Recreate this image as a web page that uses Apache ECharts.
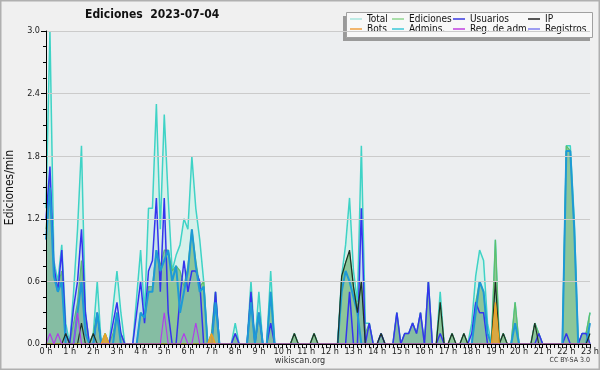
<!DOCTYPE html>
<html><head><meta charset="utf-8">
<script src="https://cdn.jsdelivr.net/npm/echarts@6/dist/echarts.min.js"></script>
<style>html,body{margin:0;padding:0;background:#f0f0f0}#c{width:600px;height:370px}</style>
</head><body><div id="c"></div>
<script>
// tick labels (one per hour)
const hourLabels = ['0 h','1 h','2 h','3 h','4 h','5 h','6 h','7 h','8 h','9 h','10 h','11 h',
  '12 h','13 h','14 h','15 h','16 h','17 h','18 h','19 h','20 h','21 h','22 h','23 h'];
const yTicks = [0, 0.6, 1.2, 1.8, 2.4, 3.0];

// edits per minute, one value per 10-minute slot (00:00 .. 23:00)
const total = [
  1.3,3.0,0.8,0.6,0.95,0.2,   0,0.5,1.1,1.9,0.3,0,   0.1,0.6,0,0.1,0,0.35,   0.7,0.3,0,0,0,0.45,
  0.9,0.3,1.3,1.3,2.3,1.1,   2.2,1.4,0.7,0.85,0.95,1.2,   1.1,1.8,1.3,1.0,0.6,0,   0.1,0.5,0,0,0,0,
  0.2,0,0,0,0.6,0,   0.5,0,0,0.7,0,0,   0,0,0,0.1,0,0,   0,0,0.1,0,0,0,
  0,0,0,0.65,0.95,1.4,   0.7,0.4,1.9,0.2,0.2,0,   0,0.1,0,0,0,0.3,   0,0.1,0.1,0.2,0.1,0.3,
  0,0.6,0,0,0.5,0,   0,0.1,0,0,0.1,0,   0.2,0.65,0.9,0.8,0.2,0,   1.0,0,0.1,0,0,0.4,
  0,0,0,0,0.2,0.1,   0,0,0,0,0,0,   1.9,1.9,1.2,0,0.1,0.1,   0.3];
const ediciones = [
  1.1,1.6,0.7,0.55,0.7,0.1,   0,0.2,0.4,0.8,0.2,0,   0.1,0.3,0,0.1,0,0.1,   0.3,0.1,0,0,0,0,
  0.3,0.25,0.55,0.55,0.9,0.75,   0.9,0.9,0.7,0.75,0.7,0.55,   0.75,1.1,0.8,0.55,0.6,0,   0.1,0.5,0,0,0,0,
  0.1,0,0,0,0.5,0,   0.3,0,0,0.5,0,0,   0,0,0,0.1,0,0,   0,0,0.1,0,0,0,
  0,0,0,0.62,0.78,0.88,   0.55,0.35,0.6,0.1,0.2,0,   0,0.1,0,0,0,0.3,   0,0.1,0.1,0.2,0.1,0.3,
  0,0.6,0,0,0.4,0,   0,0.1,0,0,0.1,0,   0,0.4,0.6,0.5,0.1,0,   1.0,0,0.1,0,0,0.4,
  0,0,0,0,0.2,0.1,   0,0,0,0,0,0,   1.9,1.85,1.1,0,0.1,0.1,   0.3];
const usuarios = [
  1.2,1.7,0.75,0.5,0.9,0.1,   0,0.35,0.6,1.1,0.3,0,   0,0.3,0,0,0,0.2,   0.4,0.1,0,0,0,0.3,
  0.6,0.2,0.7,0.8,1.4,0.5,   1.4,0.3,0,0,0.45,0.8,   0.5,0.7,0.7,0.6,0,0,   0,0.5,0,0,0,0,
  0.1,0,0,0,0.5,0,   0.3,0,0,0.2,0,0,   0,0,0,0,0,0,   0,0,0,0,0,0,
  0,0,0,0,0,0.5,   0,0,1.3,0,0.2,0,   0,0.1,0,0,0,0.3,   0,0.1,0.1,0.2,0.1,0.3,
  0,0.6,0,0,0.1,0,   0,0,0,0,0,0,   0.1,0.4,0.3,0.3,0,0,   0,0,0,0,0,0,
  0,0,0,0,0,0.1,   0,0,0,0,0,0,   0.1,0,0,0,0.1,0.1,   0];
const ip = [
  0,0,0,0,0,0.1,   0,0,0,0.2,0,0,   0.1,0,0,0,0,0,   0,0,0,0,0,0,
  0,0,0,0,0,0,   0,0,0,0,0,0,   0,0,0,0,0,0,   0,0,0,0,0,0,
  0,0,0,0,0,0,   0,0,0,0,0,0,   0,0,0,0.1,0,0,   0,0,0.1,0,0,0,
  0,0,0,0.65,0.78,0.9,   0.55,0.3,0.6,0,0,0,   0,0.1,0,0,0,0,   0,0,0,0,0,0,
  0,0,0,0,0.4,0,   0,0.1,0,0,0.1,0,   0,0,0,0,0,0,   0.6,0,0.1,0,0,0,
  0,0,0,0,0.2,0,   0,0,0,0,0,0,   0,0,0,0,0,0,   0.1];
const bots = [
  0,0,0,0,0,0,   0,0,0,0,0,0,   0,0,0,0.1,0,0,   0,0,0,0,0,0,
  0,0,0,0,0,0,   0,0,0,0,0,0,   0,0,0,0,0,0,   0.1,0,0,0,0,0,
  0,0,0,0,0,0,   0,0,0,0,0,0,   0,0,0,0,0,0,   0,0,0,0,0,0,
  0,0,0,0,0,0,   0,0,0,0,0,0,   0,0,0,0,0,0,   0,0,0,0,0,0,
  0,0,0,0,0,0,   0,0,0,0,0,0,   0,0,0,0,0,0,   0.4,0,0,0,0,0,
  0,0,0,0,0,0,   0,0,0,0,0,0,   0,0,0,0,0,0,   0];
const admins = [
  1.0,1.5,0.65,0.5,0.6,0,   0,0,0.3,0.6,0.1,0,   0,0.3,0,0,0,0,   0.3,0,0,0,0,0,
  0.3,0.25,0.5,0.5,0.9,0.7,   0.8,0.9,0.6,0.75,0.3,0.5,   0.7,1.1,0.75,0.5,0.55,0,   0,0.4,0,0,0,0,
  0,0,0,0,0.4,0,   0.3,0,0,0.5,0,0,   0,0,0,0,0,0,   0,0,0,0,0,0,
  0,0,0,0.5,0.7,0.6,   0.45,0.3,0,0,0,0,   0,0,0,0,0,0,   0,0,0,0,0,0,
  0,0,0,0,0,0,   0,0,0,0,0,0,   0,0.3,0.6,0.5,0.1,0,   0,0,0,0,0,0.2,
  0,0,0,0,0,0,   0,0,0,0,0,0,   1.85,1.85,1.1,0,0,0,   0.2];
const regAdm = [
  0,0.1,0,0.1,0,0,   0,0,0.3,0,0,0,   0,0,0,0,0,0,   0,0,0,0,0,0,
  0,0,0,0,0,0,   0.3,0,0,0,0,0.1,   0,0,0.2,0,0,0,   0,0,0,0,0,0,
  0,0,0,0,0,0,   0,0,0,0,0,0,   0,0,0,0,0,0,   0,0,0,0,0,0,
  0,0,0,0,0,0,   0,0,0,0,0,0,   0,0,0,0,0,0,   0,0,0,0,0,0,
  0,0,0,0,0,0,   0,0,0,0,0,0,   0,0,0,0,0,0,   0,0,0,0,0,0,
  0,0,0,0,0,0,   0,0,0,0,0,0,   0,0,0,0,0,0,   0];
const registros = new Array(total.length).fill(0);

const categories = total.map((_, i) => {
  const h = Math.floor(i / 6), m = (i % 6) * 10;
  return String(h).padStart(2, '0') + ':' + String(m).padStart(2, '0');
});

const F = '"DejaVu Sans Condensed", "DejaVu Sans", sans-serif';
const chart = echarts.init(document.getElementById('c'), null, {renderer: 'canvas'});

function lineSeries(name, data, lineColor, legendColor, width, area, z) {
  const s = {
    name, type: 'line', data, symbol: 'none', z,
    itemStyle: {color: legendColor},
    lineStyle: {color: lineColor, width},
    emphasis: {disabled: true}, animation: false
  };
  if (area) s.areaStyle = area;
  return s;
}

const legendBase = {
  orient: 'vertical', top: 14, itemWidth: 12, itemHeight: 1.5, itemGap: 0, padding: 0,
  icon: 'rect', selectedMode: false,
  textStyle: {fontFamily: F, fontSize: 10, color: '#111', lineHeight: 9.5}
};

chart.setOption({
  backgroundColor: '#f0f0f0',
  animation: false,
  title: {
    text: 'Ediciones  2023-07-04', left: 85, top: 9, padding: 0,
    textStyle: {fontFamily: F, fontSize: 12, fontWeight: 'bold', color: '#111'}
  },
  legend: [
    Object.assign({}, legendBase, {left: 350, data: ['Total', 'Bots']}),
    Object.assign({}, legendBase, {left: 392, data: ['Ediciones', 'Admins.']}),
    Object.assign({}, legendBase, {left: 453, data: ['Usuarios', 'Reg. de adm.']}),
    Object.assign({}, legendBase, {left: 528, data: ['IP', 'Registros']})
  ],
  graphic: [
    {type: 'rect', z: 0, shape: {x: 0.5, y: 0.5, width: 599, height: 369},
      style: {fill: 'none', stroke: '#b0b0b0', lineWidth: 2}},
    {type: 'rect', z: 3, shape: {x: 343, y: 16, width: 247, height: 25}, style: {fill: '#9a9a9a'}},
    {type: 'rect', z: 3, shape: {x: 346.5, y: 12.5, width: 246, height: 25},
      style: {fill: '#f8f8f8', stroke: '#a0a0a0', lineWidth: 1}},
    {type: 'text', z: 3, left: 'center', top: 356,
      style: {text: 'wikiscan.org', font: '9px ' + F, fill: '#333'}},
    {type: 'text', z: 3, right: 10, top: 357,
      style: {text: 'CC BY-SA 3.0', font: '7px ' + F, fill: '#333'}}
  ],
  grid: {left: 46, right: 10, top: 31, bottom: 26, show: true, backgroundColor: '#eceef0', borderWidth: 0,
    outerBoundsMode: 'none', containLabel: false},
  xAxis: {
    type: 'category', data: categories, boundaryGap: false, z: 10,
    axisLine: {lineStyle: {color: '#000', width: 1}},
    axisTick: {show: true, interval: 0, length: 4, lineStyle: {color: '#000'}},
    axisLabel: {
      interval: (i) => i % 6 === 0, margin: 3,
      fontFamily: F, fontSize: 9, color: '#222',
      formatter: (v, i) => hourLabels[Math.floor(i / 6)]
    },
    splitLine: {show: false}
  },
  yAxis: {
    type: 'value', min: yTicks[0], max: yTicks[yTicks.length - 1], interval: yTicks[1] - yTicks[0], z: 10,
    name: 'Ediciones/min', nameLocation: 'middle', nameGap: 29, nameRotate: 90,
    nameTextStyle: {fontFamily: F, fontSize: 12, color: '#111'},
    axisLine: {show: true, lineStyle: {color: '#000'}},
    axisTick: {show: true, length: 5, lineStyle: {color: '#000'}},
    minorTick: {show: true, splitNumber: 4, length: 3, lineStyle: {color: '#000'}},
    axisLabel: {fontFamily: F, fontSize: 9, color: '#222', margin: 6, formatter: (v) => v.toFixed(1)},
    splitLine: {show: true, lineStyle: {color: '#cbcbcb', width: 1}}
  },
  series: [
    lineSeries('Total', total, '#3fd3c6', '#a8e6de', 1.5, {color: '#d4efe9', opacity: 0.9}, 2),
    lineSeries('Ediciones', ediciones, '#5fbf6a', '#8fd68f', 1.2, {color: '#8cc69a', opacity: 1}, 3),
    lineSeries('Usuarios', usuarios, '#3434ee', '#3a3ae0', 1.5, {color: 'rgba(90,130,230,0.18)'}, 4),
    lineSeries('Admins.', admins, '#1e9ad6', '#3cc8d8', 2, null, 5),
    lineSeries('IP', ip, '#1d2f26', '#222222', 1.2, null, 6),
    lineSeries('Bots', bots, '#f0a020', '#f0a040', 1.2, {color: '#e8a030', opacity: 0.8}, 7),
    lineSeries('Reg. de adm.', regAdm, '#b040e8', '#c040e0', 1.2, null, 8),
    lineSeries('Registros', registros, '#8080f0', '#8080f0', 1, null, 1)
  ]
});
</script></body></html>
